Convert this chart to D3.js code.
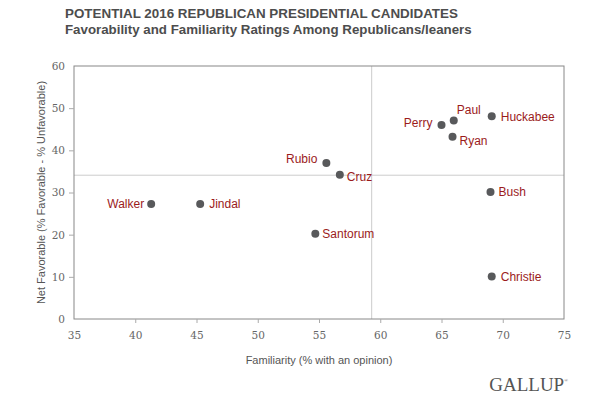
<!DOCTYPE html>
<meta charset="utf-8">
<head>
<style>
body { margin: 0; background: #fff; }
svg { font-family: "Liberation Sans", Arial, sans-serif; }
.title { font-weight: bold; fill: #4d4d4d; }
.tick text { font-family: "DejaVu Serif", Georgia, serif; fill: #666; font-size: 10.5px; }
.axis path { display: none; }
.axis line { stroke: #aaa; }
.lbl { fill: #9b1b1b; font-size: 12px; }
</style>
</head>
<body>
<svg id="chart" width="602" height="398"></svg>
<script src="https://d3js.org/d3.v7.min.js"></script>
<script>

// candidates and their ratings
var names = ["Walker", "Jindal", "Rubio", "Cruz", "Santorum", "Perry", "Paul", "Ryan", "Huckabee", "Bush", "Christie"];
var familiarity = [41.3, 45.3, 55.6, 56.7, 54.7, 65.0, 66.0, 65.9, 69.1, 69.0, 69.1];
var netFavorable = [27.3, 27.3, 37.0, 34.2, 20.2, 46.0, 47.1, 43.2, 48.1, 30.1, 10.1];

var xTicks = [35, 40, 45, 50, 55, 60, 65, 70, 75];
var yTicks = [0, 10, 20, 30, 40, 50, 60];

// average lines
var avgFamiliarity = 59.3;
var avgFavorable = 34.1;

// where each name sits next to its dot
var labelPos = {
  Walker:   {anchor: "end",   dx: -7, dy: 0},
  Jindal:   {anchor: "start", dx: 9,  dy: 0},
  Rubio:    {anchor: "end",   dx: -9, dy: -4},
  Cruz:     {anchor: "start", dx: 7,  dy: 2},
  Santorum: {anchor: "start", dx: 7,  dy: 0},
  Perry:    {anchor: "end",   dx: -9, dy: -2},
  Paul:     {anchor: "start", dx: 3,  dy: -11},
  Ryan:     {anchor: "start", dx: 7,  dy: 4},
  Huckabee: {anchor: "start", dx: 9,  dy: 1},
  Bush:     {anchor: "start", dx: 8,  dy: 0},
  Christie: {anchor: "start", dx: 9,  dy: 0}
};

var svg = d3.select("#chart"),
    margin = {top: 66, right: 38, bottom: 79, left: 74},
    width = +svg.attr("width") - margin.left - margin.right,
    height = +svg.attr("height") - margin.top - margin.bottom,
    g = svg.append("g").attr("transform", "translate(" + margin.left + "," + margin.top + ")");

svg.append("text").attr("class", "title")
    .attr("x", 65).attr("y", 18).style("font-size", "13.4px")
    .text("POTENTIAL 2016 REPUBLICAN PRESIDENTIAL CANDIDATES");
svg.append("text").attr("class", "title")
    .attr("x", 65).attr("y", 34).style("font-size", "13.3px")
    .text("Favorability and Familiarity Ratings Among Republicans/leaners");

var x = d3.scaleLinear().domain([35, 75]).range([0, width]);
var y = d3.scaleLinear().domain([0, 60]).range([height, 0]);

// reference lines
g.append("line")
    .attr("x1", x(avgFamiliarity)).attr("x2", x(avgFamiliarity))
    .attr("y1", 0).attr("y2", height)
    .attr("stroke", "#ccc");
g.append("line")
    .attr("x1", 0).attr("x2", width)
    .attr("y1", y(avgFavorable)).attr("y2", y(avgFavorable))
    .attr("stroke", "#ccc");

g.append("rect")
    .attr("width", width).attr("height", height)
    .attr("fill", "none").attr("stroke", "#888");

g.append("g")
    .attr("class", "axis axis--x")
    .attr("transform", "translate(0," + height + ")")
    .call(d3.axisBottom(x).tickValues(xTicks).tickSize(4).tickPadding(9))
  .selectAll(".tick line").filter(function(d) { return d == 35 || d == 75; }).remove();

g.append("g")
    .attr("class", "axis axis--y")
    .call(d3.axisLeft(y).tickValues(yTicks).tickSize(5).tickPadding(4))
  .selectAll(".tick line").filter(function(d) { return d == 0 || d == 60; }).remove();

svg.append("text")
    .attr("x", margin.left + width / 2).attr("y", 364)
    .attr("text-anchor", "middle").attr("fill", "#555").style("font-size", "11px")
    .text("Familiarity (% with an opinion)");

svg.append("text")
    .attr("transform", "translate(45," + (margin.top + height / 2) + ") rotate(-90)")
    .attr("text-anchor", "middle").attr("fill", "#555").style("font-size", "11px")
    .text("Net Favorable (% Favorable - % Unfavorable)");

var pts = g.selectAll(".pt")
  .data(names)
  .enter().append("g")
    .attr("class", "pt")
    .attr("transform", function(d, i) { return "translate(" + x(familiarity[i]) + "," + y(netFavorable[i]) + ")"; });

pts.append("circle").attr("r", 4).attr("fill", "#58595b");

pts.append("text")
    .attr("class", "lbl")
    .attr("x", function(d) { return labelPos[d].dx; })
    .attr("y", function(d) { return labelPos[d].dy; })
    .attr("dy", "0.35em")
    .attr("text-anchor", function(d) { return labelPos[d].anchor; })
    .text(function(d) { return d; });

// logo
var logo = svg.append("text")
    .attr("x", 568).attr("y", 391)
    .attr("text-anchor", "end")
    .attr("fill", "#555")
    .style("font-family", "'Liberation Serif', 'Times New Roman', serif")
    .style("font-size", "19px");
logo.append("tspan").text("GALLUP");
logo.append("tspan").attr("dy", -9).style("font-size", "5px").text("®");

</script>
</body>
</html>
